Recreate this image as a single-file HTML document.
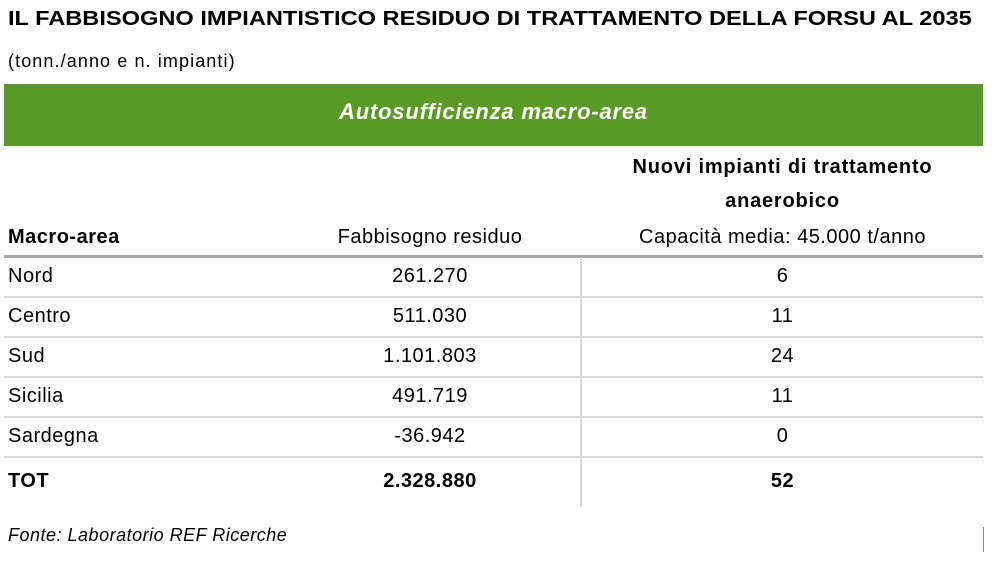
<!DOCTYPE html>
<html><head><meta charset="utf-8"><style>
body{margin:0;width:995px;height:562px;background:#fff;position:relative;overflow:hidden;font-family:"Liberation Sans",sans-serif;color:#000}
div{position:absolute;white-space:nowrap}
.l{left:8px}.c1{left:280px;width:300px;text-align:center}.c2{left:582px;width:401px;text-align:center}
.t{font-size:20px;letter-spacing:0.5px}
.hl{left:4px;width:979px;height:2px;background:#d9d9d9}
</style></head><body>
<div style="left:8px;top:8px;font-size:20px;font-weight:bold;transform:scaleX(1.18);transform-origin:left top">IL FABBISOGNO IMPIANTISTICO RESIDUO DI TRATTAMENTO DELLA FORSU AL 2035</div>
<div style="left:8px;top:51px;font-size:18px;letter-spacing:1.1px">(tonn./anno e n. impianti)</div>
<div style="left:4px;top:84px;width:979px;height:62px;background:#5b9a27"></div>
<div style="left:4px;top:99px;width:979px;text-align:center;color:#fff;font-size:22px;letter-spacing:0.8px;font-weight:bold;font-style:italic">Autosufficienza macro-area</div>
<div class="c2" style="top:150px;font-size:20px;letter-spacing:0.8px;font-weight:bold;line-height:34px">Nuovi impianti di trattamento<br>anaerobico</div>
<div class="l t" style="top:226px;font-weight:bold">Macro-area</div>
<div class="c1 t" style="top:226px">Fabbisogno residuo</div>
<div class="c2 t" style="top:226px">Capacità media: 45.000 t/anno</div>
<div style="left:4px;top:255px;width:979px;height:3px;background:#a6a6a6"></div>
<div class="hl" style="top:296px"></div>
<div class="hl" style="top:336px"></div>
<div class="hl" style="top:376px"></div>
<div class="hl" style="top:416px"></div>
<div class="hl" style="top:456px"></div>
<div style="left:580px;top:257px;width:2px;height:250px;background:#d9d9d9"></div>
<div style="left:983px;top:527px;width:1px;height:25px;background:#888"></div>
<div class="l t" style="top:265px">Nord</div><div class="c1 t" style="top:265px">261.270</div><div class="c2 t" style="top:265px">6</div>
<div class="l t" style="top:305px">Centro</div><div class="c1 t" style="top:305px">511.030</div><div class="c2 t" style="top:305px">11</div>
<div class="l t" style="top:345px">Sud</div><div class="c1 t" style="top:345px">1.101.803</div><div class="c2 t" style="top:345px">24</div>
<div class="l t" style="top:385px">Sicilia</div><div class="c1 t" style="top:385px">491.719</div><div class="c2 t" style="top:385px">11</div>
<div class="l t" style="top:425px">Sardegna</div><div class="c1 t" style="top:425px">-36.942</div><div class="c2 t" style="top:425px">0</div>
<div class="l t" style="top:470px;font-weight:bold">TOT</div><div class="c1 t" style="top:470px;font-weight:bold">2.328.880</div><div class="c2 t" style="top:470px;font-weight:bold">52</div>
<div style="left:8px;top:525px;font-size:18px;letter-spacing:0.5px;font-style:italic">Fonte: Laboratorio REF Ricerche</div>
</body></html>
